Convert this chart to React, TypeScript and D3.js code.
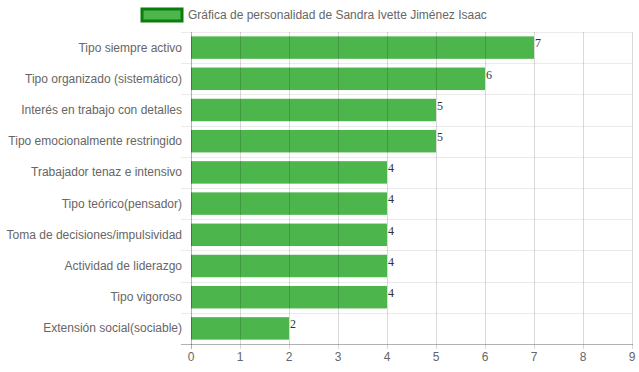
import React, { useEffect, useRef } from 'react';
import * as d3 from 'd3';

const categories = [
  'Tipo siempre activo',
  'Tipo organizado (sistemático)',
  'Interés en trabajo con detalles',
  'Tipo emocionalmente restringido',
  'Trabajador tenaz e intensivo',
  'Tipo teórico(pensador)',
  'Toma de decisiones/impulsividad',
  'Actividad de liderazgo',
  'Tipo vigoroso',
  'Extensión social(sociable)',
];
const values = [7, 6, 5, 5, 4, 4, 4, 4, 4, 2];
const xTicks = [0, 1, 2, 3, 4, 5, 6, 7, 8, 9];
const seriesLabel = 'Gráfica de personalidad de Sandra Ivette Jiménez Isaac';

const App = () => {
  const ref = useRef<SVGSVGElement>(null);

  useEffect(() => {
    if (!ref.current) return;
    const width = 639, height = 372;
    const left = 191, right = 632, top = 32, bottom = 344;
    const font = 'Arial, "Liberation Sans", sans-serif';

    const svg = d3.select(ref.current);
    svg.selectAll('*').remove();

    const x = d3.scaleLinear().domain([0, 9]).range([left, right]);
    const y = d3.scaleBand().domain(categories).range([top, bottom]);
    const barH = y.bandwidth() * 0.72;

    // horizontal grid (category boundaries)
    const bounds = categories.map(c => y(c)!);
    svg.append('g').selectAll('line').data(bounds).enter().append('line')
      .attr('x1', left - 10).attr('x2', right)
      .attr('y1', d => Math.round(d) + 0.5).attr('y2', d => Math.round(d) + 0.5)
      .attr('stroke', 'rgba(0,0,0,0.08)').attr('stroke-width', 1);

    // bars
    svg.append('g').selectAll('rect').data(values).enter().append('rect')
      .attr('x', left)
      .attr('y', (d, i) => y(categories[i])! + (y.bandwidth() - barH) / 2)
      .attr('width', d => x(d) - left)
      .attr('height', barH)
      .attr('fill', 'rgba(0,150,0,0.7)');

    // vertical grid
    svg.append('g').selectAll('line').data(xTicks).enter().append('line')
      .attr('x1', d => Math.round(x(d)) + 0.5).attr('x2', d => Math.round(x(d)) + 0.5)
      .attr('y1', top).attr('y2', bottom + 5)
      .attr('stroke', d => d === 0 ? 'rgba(0,0,0,0.3)' : 'rgba(0,0,0,0.15)').attr('stroke-width', 1);

    // bottom axis line
    svg.append('line')
      .attr('x1', left - 10).attr('x2', right + 1)
      .attr('y1', bottom + 0.5).attr('y2', bottom + 0.5)
      .attr('stroke', 'rgba(0,0,0,0.3)');

    // x tick labels
    svg.append('g').selectAll('text').data(xTicks).enter().append('text')
      .attr('x', d => x(d)).attr('y', 361)
      .attr('text-anchor', 'middle')
      .attr('font-family', font).attr('font-size', 12).attr('fill', '#666')
      .text(d => String(d));

    // y labels
    svg.append('g').selectAll('text').data(categories).enter().append('text')
      .attr('x', 182).attr('y', d => y(d)! + y.bandwidth() / 2 + 4)
      .attr('text-anchor', 'end')
      .attr('font-family', font).attr('font-size', 12).attr('fill', '#666')
      .text(d => d);

    // value labels
    svg.append('g').selectAll('text').data(values).enter().append('text')
      .attr('x', d => x(d) + 1)
      .attr('y', (d, i) => y(categories[i])! + (y.bandwidth() - barH) / 2 + 11)
      .attr('font-family', '"Liberation Serif", "Times New Roman", serif').attr('font-size', 12).attr('fill', '#333')
      .text(d => String(d));

    // legend
    svg.append('rect')
      .attr('x', 142).attr('y', 9).attr('width', 40).attr('height', 12)
      .attr('fill', 'rgba(0,150,0,0.7)').attr('stroke', '#0a7d0a').attr('stroke-width', 3);
    svg.append('text')
      .attr('x', 188).attr('y', 19)
      .attr('font-family', font).attr('font-size', 12).attr('fill', '#666')
      .text(seriesLabel);

    svg.attr('width', width).attr('height', height);
  }, []);

  return <svg ref={ref} width={639} height={372} style={{ position: 'absolute', left: 0, top: 0 }} />;
};

export default App;
